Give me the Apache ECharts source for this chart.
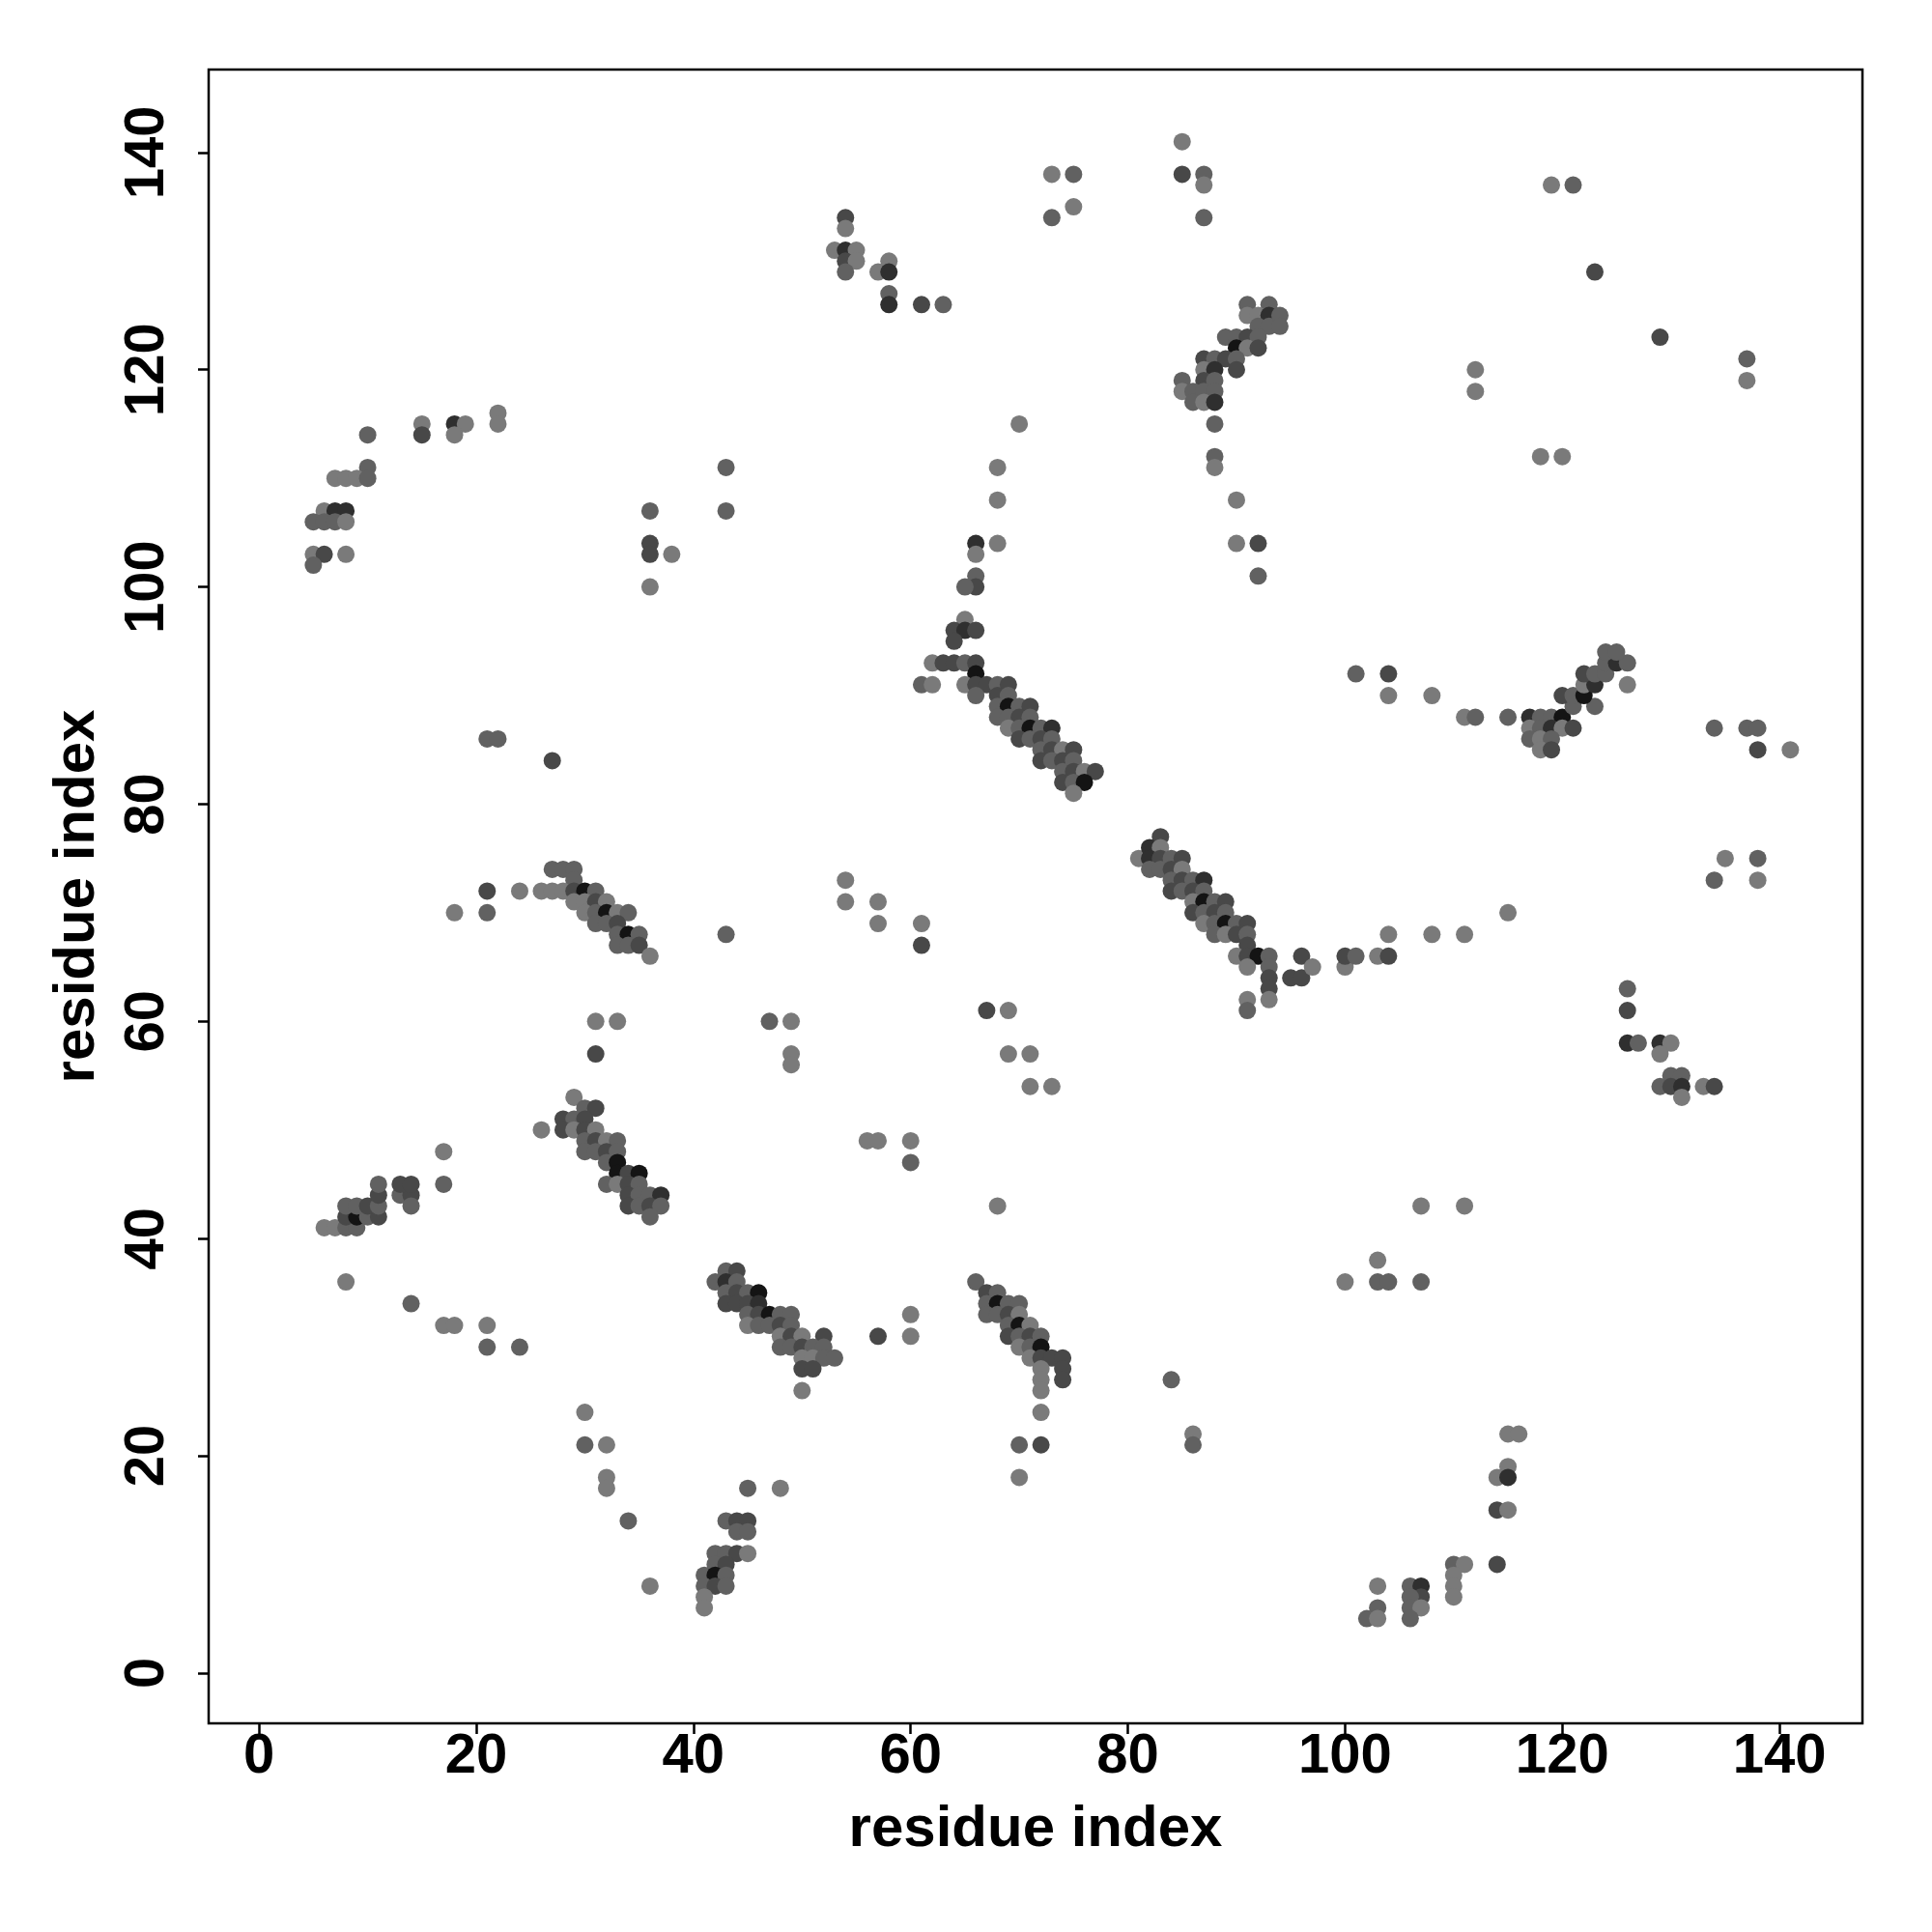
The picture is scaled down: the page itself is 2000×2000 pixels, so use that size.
<!DOCTYPE html>
<html><head><meta charset="utf-8">
<script src="https://cdn.jsdelivr.net/npm/echarts@6/dist/echarts.min.js"></script>
<style>html,body{margin:0;padding:0;background:#fff}#c{width:2000px;height:2000px}</style>
</head><body><div id="c"></div>
<script>
// each point: [x residue, y residue, shade level 1(light)..5(black)]
const clusterA = [[10,114,2],[15,115,1],[15,114,3],[18,115,4],[19,115,1],[18,114,1],[22,116,1],[22,115,1],[10,111,2],[7,110,1],[8,110,1],[9,110,1],[10,110,2],[6,107,1],[7,107,4],[8,107,4],[5,106,2],[6,106,2],[7,106,2],[8,106,1],[5,103,1],[6,103,3],[8,103,1],[5,102,2]];
const scatterUpperLeft = [[36,107,2],[36,104,3],[36,103,3],[36,100,1],[38,103,1],[43,111,2],[43,107,2],[21,86,2],[22,86,2],[27,84,3]];
const clusterB = [[27,74,2],[28,74,2],[29,74,2],[29,73,2],[21,72,3],[24,72,1],[26,72,1],[27,72,1],[28,72,1],[29,72,3],[30,72,5],[31,72,2],[29,71,1],[30,71,1],[31,71,3],[32,71,1],[30,70,1],[31,70,2],[32,70,5],[33,70,1],[34,70,2],[31,69,2],[32,69,2],[33,69,3],[33,68,2],[34,68,5],[35,68,2],[33,67,2],[34,67,2],[35,67,3],[36,66,1],[18,70,1],[21,70,2]];
const scatterMidLeft = [[31,60,1],[33,60,1],[31,57,3]];
const clusterC = [[29,53,1],[30,52,2],[31,52,3],[28,51,3],[29,51,2],[30,51,3],[26,50,1],[28,50,3],[29,50,1],[30,50,3],[31,50,1],[30,49,2],[31,49,3],[32,49,1],[33,49,2],[30,48,2],[31,48,2],[32,48,3],[33,48,2],[32,47,2],[33,47,5],[33,46,5],[34,46,3],[35,46,5],[32,45,2],[33,45,1],[34,45,3],[35,45,2],[34,44,3],[35,44,2],[36,44,2],[37,44,4],[34,43,3],[35,43,2],[36,43,3],[37,43,2],[36,42,2]];
const clusterC2 = [[6,41,1],[7,41,1],[8,41,2],[9,41,2],[8,42,3],[9,42,5],[10,42,2],[11,42,3],[8,43,2],[9,43,2],[10,43,3],[11,43,2],[11,44,3],[13,44,2],[14,44,3],[11,45,2],[13,45,3],[14,45,3],[14,43,2],[17,48,1],[17,45,2]];
const scatterLowLeft = [[8,36,1],[14,34,2],[17,32,1],[18,32,1],[21,32,1],[21,30,2],[24,30,2],[30,24,1],[30,21,2],[32,21,1],[32,18,1],[32,17,1],[34,14,2],[36,8,1]];
const clusterD = [[42,36,2],[43,37,2],[44,37,3],[43,36,4],[44,36,2],[43,35,2],[44,35,3],[45,35,2],[46,35,5],[43,34,3],[44,34,3],[45,34,3],[46,34,4],[45,33,2],[46,33,3],[47,33,5],[48,33,2],[49,33,2],[45,32,1],[46,32,2],[47,32,2],[48,32,3],[49,32,2],[48,31,1],[49,31,3],[50,31,1],[52,31,3],[48,30,2],[49,30,2],[50,30,3],[51,30,2],[52,30,2],[50,29,1],[51,29,1],[52,29,2],[53,29,2],[50,28,3],[51,28,3],[50,26,1],[57,31,3],[60,33,1],[60,31,1]];
const clusterE = [[45,17,2],[48,17,1],[43,14,2],[44,14,3],[45,14,3],[44,13,2],[45,13,2],[42,11,2],[43,11,2],[44,11,3],[45,11,1],[42,10,2],[43,10,3],[41,9,2],[42,9,5],[43,9,2],[41,8,2],[42,8,3],[43,8,2],[41,7,1],[41,6,1]];
const clusterG = [[54,134,3],[54,133,1],[53,131,1],[54,131,4],[55,131,1],[54,130,3],[55,130,1],[54,129,2],[57,129,1],[58,130,1],[58,129,4],[58,127,2],[58,126,4],[61,126,3],[63,126,2]];
const scatterTop = [[73,138,1],[75,138,2],[75,135,1],[73,134,2],[85,141,1],[85,138,3],[87,138,2],[87,137,1],[87,134,2],[119,137,1],[121,137,2],[123,129,3],[129,123,3],[112,120,1],[112,118,1],[137,121,2],[137,119,1],[118,112,1],[120,112,1],[70,115,1],[68,111,1],[68,108,1],[68,104,1]];
const clusterH = [[66,104,4],[66,103,1],[66,101,2],[66,100,3],[65,100,2],[65,97,1],[64,96,3],[65,96,4],[66,96,3],[64,95,3],[62,93,1],[63,93,3],[64,93,3],[65,93,2],[66,93,3],[66,92,5],[61,91,2],[62,91,1],[65,91,1],[66,91,3],[67,91,3],[68,91,2],[69,91,3],[66,90,2],[68,90,3],[69,90,2],[68,89,2],[69,89,5],[70,89,2],[71,89,3],[68,88,2],[69,88,2],[70,88,3],[71,88,2],[69,87,1],[70,87,2],[71,87,5],[72,87,2],[73,87,4],[70,86,3],[71,86,2],[72,86,3],[73,86,2],[72,85,2],[73,85,3],[74,85,1],[75,85,3],[72,84,3],[73,84,2],[74,84,3],[75,84,2],[74,83,2],[75,83,3],[76,83,1],[77,83,3],[74,82,3],[75,82,2],[76,82,5],[75,81,1]];
const clusterI = [[81,75,1],[83,77,3],[82,76,4],[83,76,1],[82,75,4],[83,75,3],[84,75,2],[85,75,3],[82,74,2],[83,74,2],[84,74,3],[85,74,1],[84,73,2],[85,73,3],[86,73,2],[87,73,4],[84,72,3],[85,72,2],[86,72,3],[87,72,2],[86,71,1],[87,71,5],[88,71,2],[89,71,3],[86,70,3],[87,70,2],[88,70,3],[89,70,2],[87,69,1],[88,69,2],[89,69,5],[90,69,2],[91,69,3],[88,68,2],[89,68,1],[90,68,3],[91,68,2],[91,67,3],[90,66,1],[91,66,3],[92,66,5],[93,66,2],[91,65,1],[93,65,2],[93,64,3],[93,63,3],[93,62,1],[91,62,1],[91,61,2],[95,64,3],[96,64,3],[96,66,3],[97,65,1]];
const scatterMidRight = [[100,65,1],[100,66,3],[101,66,2],[103,66,1],[104,66,3],[104,68,1],[108,68,1],[111,68,1],[115,70,1],[111,88,1],[101,92,2],[104,92,3],[104,90,1],[108,90,1],[134,87,2],[137,87,2],[138,87,2],[138,85,3],[141,85,1],[135,75,1],[138,75,2],[134,73,2],[138,73,1]];
const clusterJ = [[91,126,2],[93,126,2],[91,125,1],[92,125,1],[93,125,4],[94,125,2],[92,124,2],[93,124,2],[94,124,2],[89,123,2],[90,123,2],[91,123,3],[92,123,2],[90,122,5],[91,122,1],[92,122,3],[87,121,3],[88,121,2],[89,121,3],[90,121,2],[87,120,1],[88,120,4],[90,120,3],[85,119,2],[87,119,3],[88,119,2],[85,118,1],[86,118,2],[87,118,2],[88,118,2],[86,117,2],[87,117,1],[88,117,4],[88,115,2],[88,112,2],[88,111,1],[90,108,1],[90,104,1],[92,104,3],[92,101,2]];
const clusterK = [[112,88,2],[115,88,2],[117,88,4],[118,88,2],[119,88,2],[120,88,5],[117,87,1],[118,87,2],[119,87,4],[120,87,1],[121,87,3],[117,86,2],[118,86,1],[119,86,2],[118,85,1],[119,85,3],[121,89,2],[123,89,2],[120,90,3],[121,90,2],[122,90,5],[122,91,1],[123,91,4],[122,92,3],[123,92,2],[124,92,2],[124,93,2],[125,93,4],[126,93,2],[124,94,2],[125,94,2],[126,91,1]];
const clusterL = [[126,63,2],[126,61,3],[126,58,4],[127,58,2],[129,58,4],[130,58,1],[129,57,1],[130,55,2],[131,55,2],[129,54,2],[130,54,3],[131,54,4],[131,53,1],[133,54,1],[134,54,3]];
const scatterLowRight = [[107,43,1],[111,43,1],[100,36,1],[103,38,1],[103,36,2],[104,36,2],[107,36,2],[84,27,2],[86,22,1],[86,21,2],[68,43,1]];
const clusterM = [[115,22,1],[116,22,1],[115,19,1],[114,18,1],[115,18,4],[114,15,3],[115,15,1],[114,10,3],[110,10,2],[111,10,1],[110,9,1],[110,8,1],[110,7,1],[106,8,2],[107,8,4],[107,7,3],[106,7,2],[106,6,2],[107,6,1],[106,5,2],[103,8,1],[103,6,2],[102,5,2],[103,5,1]];
const clusterF = [[66,36,2],[67,35,3],[68,35,2],[67,34,2],[68,34,5],[69,34,2],[70,34,2],[67,33,2],[68,33,2],[69,33,3],[70,33,1],[69,32,2],[70,32,5],[71,32,1],[69,31,3],[70,31,2],[71,31,3],[72,31,2],[70,30,1],[71,30,2],[72,30,5],[71,29,1],[72,29,3],[73,29,3],[74,29,3],[72,28,1],[74,28,3],[72,27,1],[74,27,3],[72,26,1],[72,24,1],[70,21,2],[72,21,3],[70,18,1]];
const scatterCenter = [[67,61,3],[69,61,1],[69,57,1],[71,57,1],[71,54,1],[73,54,1],[54,73,1],[54,71,1],[57,71,1],[57,69,1],[61,69,1],[61,67,3],[47,60,2],[49,60,1],[49,57,1],[49,56,1],[43,68,2],[56,49,1],[57,49,1],[60,49,1],[60,47,2]];

const tickValues = [0, 20, 40, 60, 80, 100, 120, 140];
const axisTitle = 'residue index';

const shadeColors = ['#7a7a7a', '#7a7a7a', '#616161', '#484848', '#2f2f2f', '#141414'];
const allPoints = [].concat(clusterA, scatterUpperLeft, clusterB, scatterMidLeft, clusterC, clusterC2,
  scatterLowLeft, clusterD, clusterE, clusterG, scatterTop, clusterH, clusterI, scatterMidRight,
  clusterJ, clusterK, clusterL, scatterLowRight, clusterM, clusterF, scatterCenter);

const font = 'Liberation Sans, Arial, sans-serif';
const chart = echarts.init(document.getElementById('c'), null, {renderer: 'canvas', width: 2000, height: 2000});
function axis(isY) {
  return {
    type: 'value', min: -4.64, max: 147.64,
    name: axisTitle, nameLocation: 'middle', nameGap: isY ? 106 : 80,
    nameTextStyle: {fontFamily: font, fontWeight: 'bold', fontSize: 60, color: '#000'},
    axisLine: {show: false, onZero: false},
    splitLine: {show: false},
    axisTick: {show: true, customValues: tickValues, length: 11, inside: false,
      lineStyle: {color: '#000', width: 2.5}},
    axisLabel: {show: true, customValues: tickValues, rotate: isY ? 90 : 0, margin: isY ? 34 : 6,
      fontFamily: font, fontWeight: 'bold', fontSize: 58, color: '#000'}
  };
}
chart.setOption({
  animation: false,
  backgroundColor: '#fff',
  grid: {left: 216, top: 72, width: 1712, height: 1712, show: true, borderColor: '#000', borderWidth: 2.5, backgroundColor: 'transparent'},
  xAxis: axis(false),
  yAxis: axis(true),
  series: [{
    type: 'scatter', symbol: 'circle', symbolSize: 18,
    data: allPoints,
    itemStyle: {opacity: 1, color: p => shadeColors[p.value[2]]}
  }]
});
</script></body></html>
